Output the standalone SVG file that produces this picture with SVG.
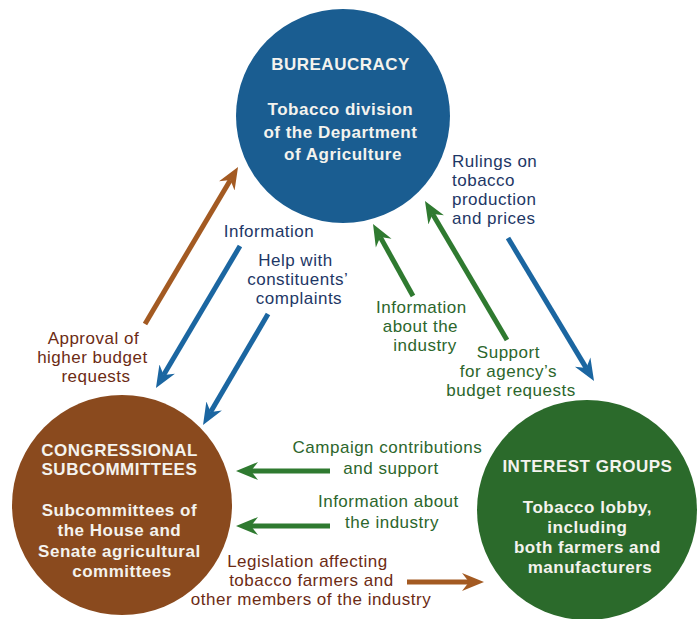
<svg xmlns="http://www.w3.org/2000/svg" width="697" height="619" viewBox="0 0 697 619">
  <style>
    text { font-family: "Liberation Sans", Arial, sans-serif; font-size: 17px; letter-spacing: 0.5px; }
    .node { font-weight: bold; fill: #f4f3ee; text-anchor: middle; }
    .navy { fill: #1e3766; }
    .grn { fill: #2c662c; }
    .brn { fill: #6c2b14; }
    .mid { text-anchor: middle; }
    .a-blue { stroke: #1b66a1; stroke-width: 5; fill: none; marker-end: url(#head-blue); }
    .a-green { stroke: #2f7a30; stroke-width: 5; fill: none; marker-end: url(#head-green); }
    .a-brown { stroke: #a35a22; stroke-width: 5; fill: none; marker-end: url(#head-brown); }
  </style>
  <defs>
    <marker id="head-blue" markerUnits="userSpaceOnUse" markerWidth="24" markerHeight="20" viewBox="0 -10 24 20" refX="7" refY="0" orient="auto">
      <path d="M0,-9 L22,0 L0,9 L7,0 Z" fill="#1b66a1"/>
    </marker>
    <marker id="head-green" markerUnits="userSpaceOnUse" markerWidth="24" markerHeight="20" viewBox="0 -10 24 20" refX="7" refY="0" orient="auto">
      <path d="M0,-9 L22,0 L0,9 L7,0 Z" fill="#2f7a30"/>
    </marker>
    <marker id="head-brown" markerUnits="userSpaceOnUse" markerWidth="24" markerHeight="20" viewBox="0 -10 24 20" refX="7" refY="0" orient="auto">
      <path d="M0,-9 L22,0 L0,9 L7,0 Z" fill="#a35a22"/>
    </marker>
  </defs>

  <rect width="697" height="619" fill="#ffffff"/>

  <!-- connectors -->
  <g id="connectors">
    <line class="a-brown" x1="145" y1="324" x2="230.4" y2="179.9"/>
    <line class="a-blue" x1="240" y1="246" x2="163.6" y2="375.1"/>
    <line class="a-blue" x1="268" y1="314" x2="210.6" y2="412.1"/>
    <line class="a-green" x1="413" y1="296" x2="380.3" y2="237.1"/>
    <line class="a-green" x1="507" y1="340" x2="432.6" y2="213.9"/>
    <line class="a-blue" x1="508" y1="238" x2="586.3" y2="368.1"/>
    <line class="a-green" x1="330" y1="471" x2="251" y2="471"/>
    <line class="a-green" x1="330" y1="526" x2="251" y2="526"/>
    <line class="a-brown" x1="407" y1="582" x2="469" y2="582"/>
  </g>

  <!-- connector labels -->
  <g id="labels">
    <text class="navy mid" x="269" y="237">Information</text>
    <text class="navy mid">
      <tspan x="298" y="266">Help with</tspan>
      <tspan x="300" y="285">constituents’</tspan>
      <tspan x="299" y="304">complaints</tspan>
    </text>
    <text class="navy">
      <tspan x="452" y="167">Rulings on</tspan>
      <tspan x="452" y="186">tobacco</tspan>
      <tspan x="452" y="205">production</tspan>
      <tspan x="452" y="224">and prices</tspan>
    </text>
    <text class="grn mid">
      <tspan x="424" y="313">Information</tspan>
      <tspan x="423" y="332">about the</tspan>
      <tspan x="425" y="351">industry</tspan>
    </text>
    <text class="grn mid">
      <tspan x="511" y="358">Support</tspan>
      <tspan x="511" y="377">for agency’s</tspan>
      <tspan x="511" y="396">budget requests</tspan>
    </text>
    <text class="brn mid">
      <tspan x="96" y="344">Approval of</tspan>
      <tspan x="95" y="363">higher budget</tspan>
      <tspan x="96" y="382">requests</tspan>
    </text>
    <text class="grn mid">
      <tspan x="390" y="453">Campaign contributions</tspan>
      <tspan x="391" y="474">and support</tspan>
    </text>
    <text class="grn mid">
      <tspan x="391" y="507">Information about</tspan>
      <tspan x="392" y="528">the industry</tspan>
    </text>
    <text class="brn mid">
      <tspan x="310" y="567">Legislation affecting</tspan>
      <tspan x="314" y="586">tobacco farmers and</tspan>
      <tspan x="311" y="605">other members of the industry</tspan>
    </text>
  </g>

  <!-- nodes -->
  <g id="bureaucracy">
    <circle cx="343" cy="116" r="107" fill="#1a5d91"/>
    <text class="node">
      <tspan x="343" y="70">BUREAUCRACY</tspan>
      <tspan x="343" y="115">Tobacco division</tspan>
      <tspan x="343" y="138">of the Department</tspan>
      <tspan x="343" y="160">of Agriculture</tspan>
    </text>
  </g>

  <g id="congressional-subcommittees">
    <circle cx="122" cy="505" r="110" fill="#8a4a1e"/>
    <text class="node">
      <tspan x="122" y="456">CONGRESSIONAL</tspan>
      <tspan x="122" y="475">SUBCOMMITTEES</tspan>
      <tspan x="122" y="516">Subcommittees of</tspan>
      <tspan x="122" y="536">the House and</tspan>
      <tspan x="122" y="557">Senate agricultural</tspan>
      <tspan x="122" y="577">committees</tspan>
    </text>
  </g>

  <g id="interest-groups">
    <circle cx="587" cy="510" r="110" fill="#2b6a2b"/>
    <text class="node">
      <tspan x="590" y="472">INTEREST GROUPS</tspan>
      <tspan x="590" y="513">Tobacco lobby,</tspan>
      <tspan x="590" y="533">including</tspan>
      <tspan x="590" y="553">both farmers and</tspan>
      <tspan x="590" y="573">manufacturers</tspan>
    </text>
  </g>
</svg>
